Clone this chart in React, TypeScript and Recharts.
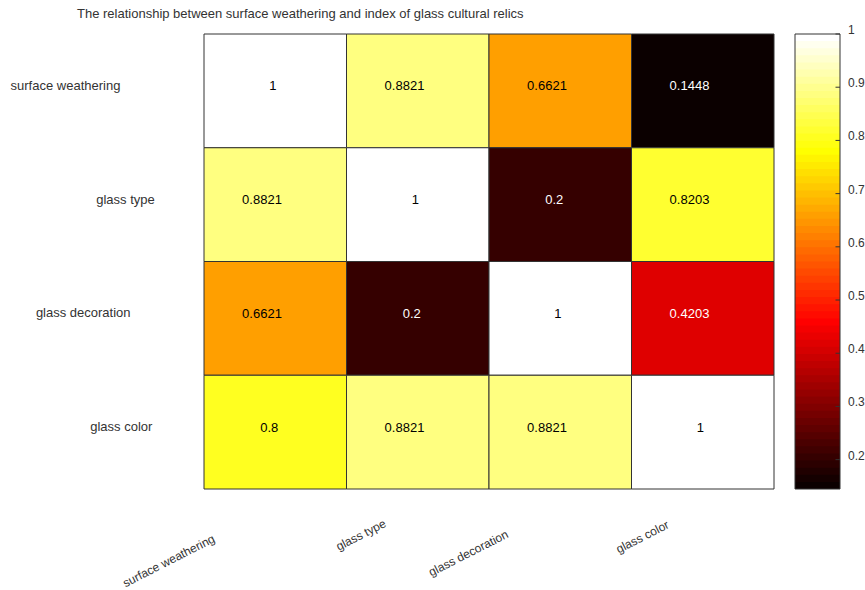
import React from "react";
import {
  ComposedChart,
  ReferenceArea,
  ReferenceLine,
  Scatter,
  XAxis,
  YAxis,
} from "recharts";

const indexNames = ["surface weathering", "glass type", "glass decoration", "glass color"];

const surfaceWeathering = [1, 0.8821, 0.6621, 0.1448];
const glassType = [0.8821, 1, 0.2, 0.8203];
const glassDecoration = [0.6621, 0.2, 1, 0.4203];
const glassColor = [0.8, 0.8821, 0.8821, 1];

const colorbarTicks = [0.2, 0.3, 0.4, 0.5, 0.6, 0.7, 0.8, 0.9, 1];

const matrix = [surfaceWeathering, glassType, glassDecoration, glassColor];
const cells = matrix.flatMap((row, r) =>
  row.map((value, c) => ({ x: c + 0.5, y: r + 0.5, value })),
);

const allValues = matrix.flat();
const vMin = Math.min(...allValues);
const vMax = Math.max(...allValues);

const FONT = '"Liberation Sans", Arial, sans-serif';
const W = 865;
const H = 590;

// "hot" colormap with 64 discrete steps
function hot(v: number) {
  const m = 64;
  const n = 24;
  const t = (v - vMin) / (vMax - vMin);
  const i = Math.max(0, Math.min(m - 1, Math.floor(t * m)));
  const r = i < n ? (i + 1) / n : 1;
  const g = i < n ? 0 : i < 2 * n ? (i - n + 1) / n : 1;
  const b = i < 2 * n ? 0 : (i - 2 * n + 1) / (m - 2 * n);
  const to = (x: number) => Math.round(x * 255);
  return `rgb(${to(r)},${to(g)},${to(b)})`;
}

const ctx = typeof document !== "undefined" ? document.createElement("canvas").getContext("2d") : null;
function textWidth(s: string, size: number) {
  if (!ctx) return s.length * size * 0.5;
  ctx.font = `${size}px ${FONT}`;
  return ctx.measureText(s).width;
}

function XTick(props: any) {
  const { x, y, payload } = props;
  const label = indexNames[Math.floor(payload.value)];
  const w = textWidth(label, 12);
  const cx = x - 1.05 * w;
  const cy = y + 16.5 + 0.546 * w;
  return (
    <text
      x={cx}
      y={cy}
      textAnchor="middle"
      dominantBaseline="central"
      transform={`rotate(-27 ${cx} ${cy})`}
      fontSize={12}
      fontFamily={FONT}
      fill="#333"
    >
      {label}
    </text>
  );
}

function YTick(props: any) {
  const { x, y, payload } = props;
  const label = indexNames[Math.floor(payload.value)];
  const w = textWidth(label, 13);
  return (
    <text
      x={x - 10 - 1.17 * w}
      y={y - 5.5}
      textAnchor="middle"
      dominantBaseline="central"
      fontSize={13}
      fontFamily={FONT}
      fill="#333"
    >
      {label}
    </text>
  );
}

function CellText(props: any) {
  const { cx, cy, payload } = props;
  const s = String(payload.value);
  const w = textWidth(s, 13);
  return (
    <text
      x={cx - w / 3}
      y={cy - 5}
      textAnchor="middle"
      dominantBaseline="central"
      fontSize={13}
      fontFamily={FONT}
      fill={payload.value < 0.5 ? "#fff" : "#000"}
    >
      {s}
    </text>
  );
}

function BarTick(props: any) {
  const { x, y, payload } = props;
  return (
    <text
      x={x}
      y={y - 4}
      textAnchor="start"
      dominantBaseline="central"
      fontSize={12}
      fontFamily={FONT}
      fill="#333"
    >
      {payload.value}
    </text>
  );
}

// colour bar: 64 bands, each drawn a little taller so no seams show
const bandCount = 64;
const bandStep = (vMax - vMin) / bandCount;
const bands = Array.from({ length: bandCount }, (_, i) => {
  const y1 = vMin + i * bandStep;
  return {
    x: 0.5,
    y: y1 + bandStep / 2,
    y1,
    y2: Math.min(vMax, y1 + bandStep * 1.6),
    color: hot(y1 + bandStep / 2),
  };
});

export default function App() {
  return (
    <div style={{ position: "absolute", left: 0, top: 0, width: W, height: H, background: "#fff" }}>
      <div
        style={{
          position: "absolute",
          left: 77,
          top: 6,
          fontFamily: FONT,
          fontSize: 13,
          lineHeight: "16px",
          color: "#333",
          whiteSpace: "nowrap",
        }}
      >
        The relationship between surface weathering and index of glass cultural relics
      </div>

      <div style={{ position: "absolute", left: 0, top: 0 }}>
        <ComposedChart
          width={W}
          height={H}
          data={cells}
          margin={{ top: 34, right: 91, bottom: 0, left: 0 }}
        >
          <XAxis
            type="number"
            dataKey="x"
            domain={[0, 4]}
            ticks={[0.5, 1.5, 2.5, 3.5]}
            height={101}
            axisLine={false}
            tickLine={false}
            tickSize={0}
            tickMargin={0}
            tick={<XTick />}
            interval={0}
          />
          <YAxis
            type="number"
            dataKey="y"
            domain={[0, 4]}
            reversed
            ticks={[0.5, 1.5, 2.5, 3.5]}
            width={204}
            axisLine={false}
            tickLine={false}
            tickSize={0}
            tickMargin={0}
            tick={<YTick />}
            interval={0}
          />
          {cells.map((c) => (
            <ReferenceArea
              key={`${c.x}-${c.y}`}
              x1={c.x - 0.5}
              x2={c.x + 0.5}
              y1={c.y - 0.5}
              y2={c.y + 0.5}
              fill={hot(c.value)}
              fillOpacity={1}
              stroke="#333"
              strokeWidth={1}
              ifOverflow="visible"
            />
          ))}
          <Scatter data={cells} dataKey="y" shape={<CellText />} isAnimationActive={false} />
        </ComposedChart>
      </div>

      <div style={{ position: "absolute", left: 0, top: 0, pointerEvents: "none" }}>
        <ComposedChart
          width={W}
          height={H}
          data={bands}
          margin={{ top: 34, right: 0, bottom: 101, left: 795 }}
        >
          <XAxis type="number" dataKey="x" domain={[0, 1]} hide />
          <YAxis
            type="number"
            dataKey="y"
            orientation="right"
            domain={[vMin, vMax]}
            ticks={colorbarTicks}
            width={25}
            axisLine={false}
            tickLine={false}
            tickSize={0}
            tickMargin={8}
            tick={<BarTick />}
            interval={0}
            allowDataOverflow
          />
          {bands.map((b, i) => (
            <ReferenceArea
              key={i}
              x1={0}
              x2={1}
              y1={b.y1}
              y2={b.y2}
              fill={b.color}
              fillOpacity={1}
              stroke="none"
              ifOverflow="visible"
            />
          ))}
          {colorbarTicks.map((t) => (
            <ReferenceLine
              key={t}
              segment={[
                { x: 0.9, y: t },
                { x: 1, y: t },
              ]}
              stroke="#333"
              strokeWidth={1}
              ifOverflow="visible"
            />
          ))}
          <ReferenceArea
            x1={0}
            x2={1}
            y1={vMin}
            y2={vMax}
            fill="none"
            stroke="#333"
            strokeWidth={1}
            ifOverflow="visible"
          />
          <Scatter data={bands} dataKey="y" shape={() => <g />} isAnimationActive={false} />
        </ComposedChart>
      </div>
    </div>
  );
}
